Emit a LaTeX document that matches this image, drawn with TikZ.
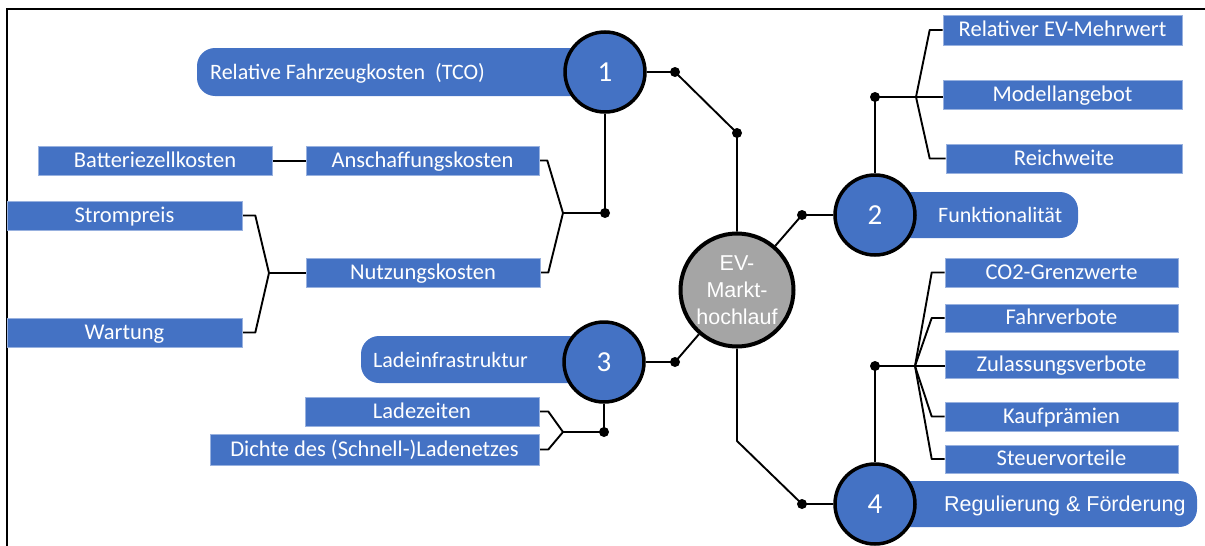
\documentclass[tikz,border=0pt]{standalone}
\usepackage{fontspec}
\setmainfont{Carlito}
\newfontfamily\arialfont{Liberation Sans}
\usetikzlibrary{backgrounds}
\definecolor{boxblue}{HTML}{4472C4}
\definecolor{evgrey}{HTML}{A5A5A5}
\begin{document}
\begin{tikzpicture}[x=1pt,y=-1pt,
  leaf/.style={fill=boxblue, draw=boxblue!55!white, line width=0.6pt, text=white, inner sep=0pt, minimum height=29pt, text height=16pt, text depth=3pt, font=\fontsize{22.5}{24}\selectfont},
  pilltext/.style={text=white, anchor=west, inner sep=0pt, text height=16pt, text depth=2pt, font=\fontsize{22}{24}\selectfont},
  pillfill/.style={fill=boxblue, rounded corners=18pt},
  numcirc/.style={circle, fill=boxblue, draw=black, line width=3.5pt, minimum size=80pt, inner sep=0pt, text=white, font=\fontsize{29}{30}\selectfont},
  evcirc/.style={circle, fill=evgrey, draw=black, line width=4pt, minimum size=113pt, inner sep=0pt, text=white, align=center, font=\arialfont\fontsize{21.5}{27}\selectfont},
  conn/.style={draw=black, line width=1.9pt, line join=round},
  jdot/.style={fill=black}
]
\useasboundingbox (0,0) rectangle (1205,546);
\draw[line width=2pt] (7,546) -- (7,9) -- (1205,9);

% main circles
\node[evcirc] (ev) at (737,290) {EV-\\Markt-\\hochlauf};
\node[numcirc] (c1) at (605,72) {1};
\node[numcirc] (c2) at (875,215) {2};
\node[numcirc] (c3) at (604,362) {3};
\node[numcirc] (c4) at (875,504) {4};

% pill labels
\node[pilltext] (t1) at (210,72) {Relative Fahrzeugkosten\ \ (TCO)};
\node[pilltext] (t3) at (373,360) {Ladeinfrastruktur};
\node[pilltext] (t2) at (938,215) {Funktionalität};
\node[pilltext, font=\arialfont\fontsize{21.5}{24}\selectfont] (t4) at (944,504) {Regulierung \& Förderung};

% leaf boxes
\node[leaf, minimum width=234pt] (batt) at (155,161) {Batteriezellkosten};
\node[leaf, minimum width=233pt] (anschaff) at (422.5,160.5) {Anschaffungskosten};
\node[leaf, minimum width=235pt] (strom) at (124.5,215.5) {Strompreis};
\node[leaf, minimum width=234pt] (nutzung) at (423,272.5) {Nutzungskosten};
\node[leaf, minimum width=235pt] (wartung) at (124.5,332.5) {Wartung};
\node[leaf, minimum width=234pt] (ladez) at (422,411.5) {Ladezeiten};
\node[leaf, minimum width=329pt, minimum height=31pt] (dichte) at (374.5,449.5) {Dichte des (Schnell-)Ladenetzes};
\node[leaf, minimum width=239pt, minimum height=30pt] (mehrwert) at (1062.5,30) {Relativer EV-Mehrwert};
\node[leaf, minimum width=239pt] (modell) at (1062.5,94.5) {Modellangebot};
\node[leaf, minimum width=236pt] (reich) at (1064,158.5) {Reichweite};
\node[leaf, minimum width=233pt] (co2) at (1061.5,272.5) {CO2-Grenzwerte};
\node[leaf, minimum width=233pt, minimum height=28pt] (fahrv) at (1061.5,318) {Fahrverbote};
\node[leaf, minimum width=233pt, minimum height=28pt] (zul) at (1061.5,364.5) {Zulassungsverbote};
\node[leaf, minimum width=233pt] (kauf) at (1061.5,416.5) {Kaufprämien};
\node[leaf, minimum width=233pt, minimum height=28pt] (steuer) at (1061.5,459) {Steuervorteile};

% junction coordinates
\coordinate (d1a) at (675,72);
\coordinate (d1b) at (737,133);
\coordinate (d1c) at (605,213);
\coordinate (j1) at (563,213);
\coordinate (d2a) at (802,215);
\coordinate (d2b) at (875,97);
\coordinate (j2) at (916,97);
\coordinate (d3a) at (675,362);
\coordinate (d3b) at (604,432);
\coordinate (j3) at (563,432);
\coordinate (e4) at (737,441);
\coordinate (d4a) at (802,504);
\coordinate (d4b) at (875,366);
\coordinate (j4) at (915,366);
\coordinate (jN) at (269,273);

\begin{scope}[on background layer]
  \fill[pillfill] (197,48) rectangle (590,96);
  \fill[pillfill] (361,336) rectangle (590,383);
  \fill[pillfill] (860,192) rectangle (1078,238);
  \fill[pillfill] (860,481) rectangle (1197,527);

  % branch 1
  \draw[conn] (c1) -- (d1a) -- (d1b) -- (ev);
  \draw[conn] (c1) -- (d1c) -- (j1);
  \draw[conn] (anschaff.east) -- ([xshift=8pt]anschaff.east) -- (j1) -- ([xshift=8pt]nutzung.east) -- (nutzung.east);
  \draw[conn] (batt.east) -- (anschaff.west |- batt.east);
  \draw[conn] (strom.east) -- ([xshift=13pt]strom.east) -- (jN) -- ([xshift=13pt]wartung.east) -- (wartung.east);
  \draw[conn] (jN) -- (nutzung.west |- jN);

  % branch 2
  \draw[conn] (ev) -- (d2a) -- (c2);
  \draw[conn] (c2) -- (d2b) -- (j2) -- (modell.west |- j2);
  \draw[conn] (mehrwert.west) -- ([xshift=-13pt]mehrwert.west) -- (j2) -- ([xshift=-16pt]reich.west) -- (reich.west);

  % branch 3
  \draw[conn] (ev) -- (d3a) -- (c3);
  \draw[conn] (c3) -- (d3b) -- (j3);
  \draw[conn] (ladez.east) -- ([xshift=9pt]ladez.east) -- (j3) -- ([xshift=9pt]dichte.east) -- (dichte.east);

  % branch 4
  \draw[conn] (ev) -- (e4) -- (d4a) -- (c4);
  \draw[conn] (c4) -- (d4b) -- (j4) -- (zul.west |- j4);
  \draw[conn] (co2.west) -- ([xshift=-13pt]co2.west) -- (j4) -- ([xshift=-13pt]steuer.west) -- (steuer.west);
  \draw[conn] (fahrv.west) -- ([xshift=-13pt]fahrv.west) -- (j4) -- ([xshift=-13pt]kauf.west) -- (kauf.west);

  % dots
  \foreach \p in {d1a,d1b,d1c,d2a,d2b,d3a,d3b,d4a,d4b}
    \fill[jdot] (\p) circle[radius=5pt];
\end{scope}
\end{tikzpicture}
\end{document}
